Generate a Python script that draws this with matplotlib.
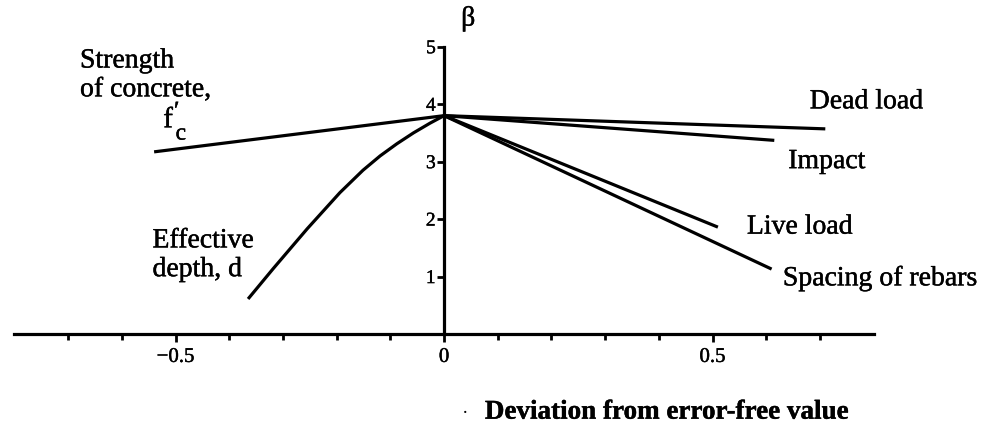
import numpy as np
import matplotlib
matplotlib.use("Agg")
import matplotlib.pyplot as plt
import matplotlib.patheffects as pe
from matplotlib.ticker import FixedLocator

plt.rcParams['font.family'] = ['Liberation Serif', 'DejaVu Serif']

# reliability index at the error-free design point
beta0 = 3.8

# straight sensitivity lines: deviation at the far end and beta there
dev_end = {
    'Strength of concrete': -0.54,
    'Dead load': 0.71,
    'Impact': 0.615,
    'Live load': 0.51,
    'Spacing of rebars': 0.61,
}
beta_end = {
    'Strength of concrete': 3.17,
    'Dead load': 3.57,
    'Impact': 3.37,
    'Live load': 1.86,
    'Spacing of rebars': 1.13,
}

# curved effect of effective depth
depth_dev = [-0.365, -0.318, -0.255, -0.194, -0.151, -0.119, -0.088,
             -0.057, -0.026, -0.002, 0.0]
depth_beta = [0.61, 1.14, 1.83, 2.46, 2.85, 3.10, 3.31, 3.50, 3.67, 3.79, 3.8]

yticks = [1, 2, 3, 4, 5]
xticks = [-0.5, 0, 0.5]
xtick_labels = ['\u22120.5', '0', '0.5']
xminor = [-0.7, -0.6, -0.4, -0.3, -0.2, -0.1, 0.1, 0.2, 0.3, 0.4, 0.6, 0.7]

# printed text is a little heavy
heavy = [pe.withStroke(linewidth=0.3, foreground='black')]

fig = plt.figure(figsize=(9.88, 4.35), dpi=100)
ax = fig.add_axes([0, 0, 1, 1])
ax.set_xlim(-0.827, 1.013)
ax.set_ylim(-1.74, 5.83)

lw = 2.3
for name in dev_end:
    ax.plot([0, dev_end[name]], [beta0, beta_end[name]], color='black',
            lw=lw, solid_capstyle='butt')
ax.plot(depth_dev, depth_beta, color='black', lw=lw, solid_capstyle='butt',
        solid_joinstyle='round')

# axes crossing at the origin
for s in ['top', 'right']:
    ax.spines[s].set_visible(False)
ax.spines['left'].set_position(('data', 0))
ax.spines['bottom'].set_position(('data', 0))
ax.spines['left'].set_bounds(0, 5)
ax.spines['bottom'].set_bounds(-0.8, 0.8)
ax.spines['left'].set_linewidth(2.3)
ax.spines['bottom'].set_linewidth(2.3)
ax.patch.set_visible(False)

ax.set_yticks(yticks)
ax.set_yticklabels([str(t) for t in yticks])
ax.set_xticks(xticks)
ax.set_xticklabels(xtick_labels)
ax.xaxis.set_minor_locator(FixedLocator(xminor))
ax.tick_params(axis='y', direction='out', length=5, width=2, labelsize=14, pad=1)
ax.tick_params(axis='x', which='major', direction='out', length=6, width=2,
               labelsize=15, pad=4)
ax.tick_params(axis='x', which='minor', direction='out', length=4, width=2)
for lab in ax.get_xticklabels() + ax.get_yticklabels():
    lab.set_path_effects(heavy)

ax.text(0.045, 5.48, '\u03b2', fontsize=20, ha='center', va='center',
        path_effects=heavy)

fs = 20
ax.text(-0.678, 4.5, 'Strength\nof concrete,', fontsize=fs, ha='left',
        va='center', linespacing=1.2, path_effects=heavy)
# f'c built from three pieces
ax.text(-0.523, 3.72, 'f', fontsize=fs + 1, ha='left', va='center',
        path_effects=heavy)
ax.text(-0.503, 3.86, '\u2032', fontsize=fs - 2, ha='left', va='center',
        path_effects=heavy)
ax.text(-0.500, 3.48, 'c', fontsize=fs - 3, ha='left', va='center',
        path_effects=heavy)
ax.text(-0.543, 1.37, 'Effective\ndepth, d', fontsize=fs, ha='left',
        va='center', linespacing=1.2, path_effects=heavy)
ax.text(0.681, 4.04, 'Dead load', fontsize=fs, ha='left', va='center',
        path_effects=heavy)
ax.text(0.641, 3.0, 'Impact', fontsize=fs, ha='left', va='center',
        path_effects=heavy)
ax.text(0.564, 1.86, 'Live load', fontsize=fs, ha='left', va='center',
        path_effects=heavy)
ax.text(0.631, 0.96, 'Spacing of rebars', fontsize=fs, ha='left', va='center',
        path_effects=heavy)

ax.text(0.040, -1.36, '\u00b7', fontsize=14, ha='center', va='center')
ax.text(0.076, -1.36, 'Deviation from error-free value', fontsize=19.5,
        fontweight='bold', ha='left', va='center', path_effects=heavy)

fig.savefig('out.png', dpi=100)
